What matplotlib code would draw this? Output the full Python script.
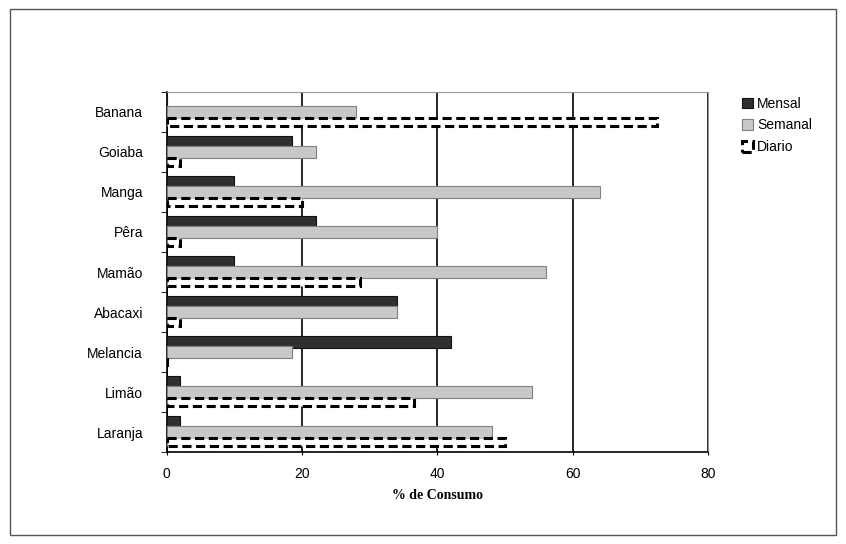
import matplotlib.pyplot as plt
import numpy as np
from matplotlib.patches import Rectangle

# --- Data (top to bottom) ---
frutas = ["Banana", "Goiaba", "Manga", "Pêra", "Mamão", "Abacaxi", "Melancia", "Limão", "Laranja"]
mensal = [0, 18.5, 10, 22, 10, 34, 42, 2, 2]
semanal = [28, 22, 64, 40, 56, 34, 18.5, 54, 48]
diario = [72.5, 2, 20, 2, 28.5, 2, 0, 36.5, 50]

fig = plt.figure(figsize=(8.46, 5.44), dpi=100)
ax = fig.add_axes([0.197, 0.169, 0.640, 0.662])

# outer chart frame
fig.patches.append(Rectangle((0.012, 0.017), 0.976, 0.966, transform=fig.transFigure,
                             fill=False, edgecolor="#555555", linewidth=1))

pos = np.arange(len(frutas))
h = 0.29
step = 0.25

ax.barh(pos - step, mensal, height=h, color="#303030", edgecolor="#111111",
        linewidth=0.8, label="Mensal", zorder=3)
ax.barh(pos, semanal, height=h, color="#c8c8c8", edgecolor="#808080",
        linewidth=0.8, label="Semanal", zorder=3)
ax.barh(pos + step, diario, height=0.22, color="white", edgecolor="black",
        linewidth=2.2, linestyle=(0, (3, 1.5)), label="Diario", zorder=3)

ax.set_xlim(0, 80)
ax.set_ylim(len(frutas) - 0.5, -0.5)
ax.set_xticks([0, 20, 40, 60, 80])
ax.set_yticks(pos)
ax.set_yticklabels(frutas, fontfamily="Liberation Sans", fontsize=10)
ax.set_yticks(np.arange(-0.5, len(frutas), 1), minor=True)
ax.tick_params(axis="y", which="major", length=0, pad=17)
ax.tick_params(axis="y", which="minor", length=4, direction="out")
ax.tick_params(axis="x", length=5, direction="inout", pad=8)
for t in ax.get_xticklabels():
    t.set_fontfamily("Liberation Sans")
    t.set_fontsize(10)

ax.grid(axis="x", color="black", linewidth=1.2, zorder=0)
ax.set_axisbelow(True)

ax.spines["left"].set_color("black")
ax.spines["bottom"].set_color("black")
ax.spines["left"].set_linewidth(1.2)
ax.spines["bottom"].set_linewidth(1.2)
ax.spines["top"].set_color("#999999")
ax.spines["right"].set_color("#999999")

ax.set_xlabel("% de Consumo", fontfamily="Liberation Serif", fontweight="bold",
              fontsize=10, labelpad=6)

fig.legend(loc="upper left", bbox_to_anchor=(0.862, 0.845), frameon=False,
           prop={"family": "Liberation Sans", "size": 10},
           handlelength=0.8, handleheight=0.8, handletextpad=0.3, labelspacing=0.55)

fig.savefig("out.png", dpi=100)
